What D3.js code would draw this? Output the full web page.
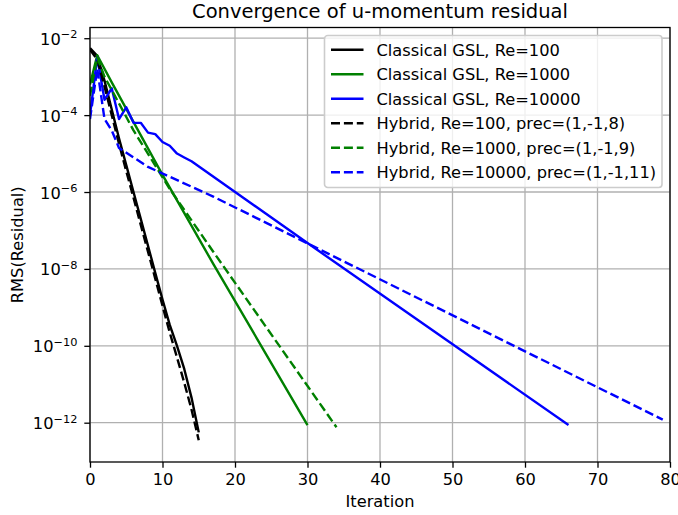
<!DOCTYPE html>
<html>
<head>
<meta charset="utf-8">
<script src="https://cdn.jsdelivr.net/npm/d3@7"></script>
<style>
  body { margin: 0; background: #fff; }
  svg { display: block; font-family: "DejaVu Sans", sans-serif; }
</style>
</head>
<body>
<svg id="chart" width="678" height="515"></svg>
<script>
// ticks
const iterTicks = [0, 10, 20, 30, 40, 50, 60, 70, 80];
const yTicks = [1e-2, 1e-4, 1e-6, 1e-8, 1e-10, 1e-12];
const yTickExps = ["\u22122", "\u22124", "\u22126", "\u22128", "\u221210", "\u221212"];

// [iteration, RMS residual]
const classicRe100 = [[0, 5.5e-3], [1, 3.5e-3], [2, 7.9e-4], [3, 1.4e-4], [4, 2.5e-5], [5, 5.0e-6],
  [6, 1.0e-6], [7, 2.0e-7], [8, 4.0e-8], [9, 7.9e-9], [10, 1.6e-9], [11, 3.5e-10], [12, 1.0e-10],
  [13, 2.5e-11], [14, 4.5e-12], [15, 5.6e-13]];
const classicRe1000 = [[0, 6.3e-4], [1, 3.6e-3], [3, 7.1e-4], [10, 2.8e-6], [17, 1.35e-8], [30, 8.7e-13]];
const classicRe10000 = [[0, 1.0e-4], [1, 3.2e-3], [2, 2.5e-4], [3, 5.0e-4], [4, 7.9e-5], [5, 1.6e-4],
  [6, 6.3e-5], [7, 6.3e-5], [8, 3.5e-5], [9, 3.2e-5], [10, 2.0e-5], [11, 1.6e-5], [12, 1.0e-5],
  [13, 7.9e-6], [14, 6.3e-6], [30, 4.7e-8], [66, 8.7e-13]];
const hybridRe100 = [[0, 5.0e-3], [1, 2.8e-3], [2, 5.6e-4], [3, 1.0e-4], [4, 1.8e-5], [5, 3.5e-6],
  [6, 7.1e-7], [7, 1.4e-7], [8, 2.8e-8], [9, 5.6e-9], [10, 1.1e-9], [11, 2.2e-10], [12, 5.0e-11],
  [13, 1.1e-11], [14, 2.2e-12], [15, 3.5e-13]];
const hybridRe1000 = [[0, 3.2e-4], [1, 3.2e-3], [2, 1.0e-3], [3, 4.5e-4], [6, 4.0e-5], [11, 1.2e-6],
  [17, 2.8e-8], [34, 7.6e-13]];
const hybridRe10000 = [[0, 7.9e-5], [1, 1.6e-3], [2, 7.9e-5], [3, 4.0e-5], [4, 1.4e-5], [8, 4.5e-6],
  [17, 7.6e-7], [79, 1.2e-12]];

const seriesNames = [
  "Classical GSL, Re=100", "Classical GSL, Re=1000", "Classical GSL, Re=10000",
  "Hybrid, Re=100, prec=(1,-1,8)", "Hybrid, Re=1000, prec=(1,-1,9)", "Hybrid, Re=10000, prec=(1,-1,11)"
];

const series = [
  { name: seriesNames[0], data: classicRe100, color: "#000000", dashed: false },
  { name: seriesNames[1], data: classicRe1000, color: "#008000", dashed: false },
  { name: seriesNames[2], data: classicRe10000, color: "#0000ff", dashed: false },
  { name: seriesNames[3], data: hybridRe100, color: "#000000", dashed: true },
  { name: seriesNames[4], data: hybridRe1000, color: "#008000", dashed: true },
  { name: seriesNames[5], data: hybridRe10000, color: "#0000ff", dashed: true }
];

const svg = d3.select("#chart");
const width = 678, height = 515;
const margin = { top: 27.5, right: 8, bottom: 53, left: 90 };
const innerWidth = width - margin.left - margin.right;
const innerHeight = height - margin.top - margin.bottom;
const fs = 16.25;
const lw = 2.4;
const dash = "9,3.9";

const g = svg.append("g").attr("transform", `translate(${margin.left},${margin.top})`);

const x = d3.scaleLinear().domain([0, 80]).range([0, innerWidth]);
const y = d3.scaleLog().domain([9.5e-14, 1.9e-2]).range([innerHeight, 0]);

// GRID
g.append("g").selectAll("line").data(iterTicks).enter().append("line")
  .attr("x1", d => x(d)).attr("x2", d => x(d))
  .attr("y1", 0).attr("y2", innerHeight)
  .attr("stroke", "#b0b0b0").attr("stroke-width", 1.3);
g.append("g").selectAll("line").data(yTicks).enter().append("line")
  .attr("x1", 0).attr("x2", innerWidth)
  .attr("y1", d => y(d)).attr("y2", d => y(d))
  .attr("stroke", "#b0b0b0").attr("stroke-width", 1.3);

// LINES
g.append("clipPath").attr("id", "clip")
  .append("rect").attr("width", innerWidth).attr("height", innerHeight);

const line = d3.line().x(d => x(d[0])).y(d => y(d[1]));

g.append("g").attr("clip-path", "url(#clip)")
  .selectAll("path").data(series).enter().append("path")
  .attr("d", d => line(d.data))
  .attr("fill", "none")
  .attr("stroke", d => d.color)
  .attr("stroke-width", lw)
  .attr("stroke-linejoin", "round")
  .attr("stroke-dasharray", d => d.dashed ? dash : null);

// AXES
const xAxis = g.append("g")
  .attr("transform", `translate(0,${innerHeight})`)
  .call(d3.axisBottom(x).tickValues(iterTicks).tickSize(5.7).tickPadding(5.7).tickFormat(d3.format("d")));
xAxis.selectAll("text").attr("font-size", fs).attr("fill", "#000")
  .attr("font-family", "DejaVu Sans");

const yAxis = g.append("g")
  .call(d3.axisLeft(y).tickValues(yTicks).tickSize(5.7).tickFormat(""));
yAxis.selectAll(".tick text").remove();

yAxis.selectAll(".tick").each(function(d, i) {
  const t = d3.select(this).append("text")
    .attr("x", -12.5).attr("y", 6)
    .attr("text-anchor", "end")
    .attr("fill", "#000")
    .attr("font-family", "DejaVu Sans");
  t.append("tspan").attr("font-size", fs).text("10");
  t.append("tspan").attr("font-size", fs * 0.7).attr("dy", -6.5).text(yTickExps[i]);
});

[xAxis, yAxis].forEach(a => {
  a.select(".domain").remove();
  a.selectAll(".tick line").attr("stroke", "#000").attr("stroke-width", 1.3);
});

// SPINES
g.append("rect")
  .attr("width", innerWidth).attr("height", innerHeight)
  .attr("fill", "none").attr("stroke", "#000").attr("stroke-width", 1.3);

// LEGEND
const lg = g.append("g").attr("transform", `translate(${324.5 - margin.left},${35.5 - margin.top})`);
lg.append("rect")
  .attr("width", 337.5).attr("height", 152)
  .attr("rx", 3.25)
  .attr("fill", "#fff").attr("fill-opacity", 0.8)
  .attr("stroke", "#cccccc").attr("stroke-width", 1.6);

const rows = lg.selectAll(".row").data(series).enter().append("g")
  .attr("transform", (d, i) => `translate(0,${14.2 + i * 24.5})`);
rows.append("line")
  .attr("x1", 6.5).attr("x2", 39)
  .attr("stroke", d => d.color)
  .attr("stroke-width", lw)
  .attr("stroke-dasharray", d => d.dashed ? dash : null);
rows.append("text")
  .attr("x", 52).attr("y", 5.8)
  .attr("font-size", fs).attr("fill", "#000")
  .text(d => d.name);

// LABELS & TITLE
svg.append("text")
  .attr("x", margin.left + innerWidth / 2).attr("y", 18)
  .attr("text-anchor", "middle")
  .attr("font-size", 19.5).attr("fill", "#000")
  .text("Convergence of u-momentum residual");

svg.append("text")
  .attr("x", margin.left + innerWidth / 2).attr("y", 507)
  .attr("text-anchor", "middle")
  .attr("font-size", fs).attr("fill", "#000")
  .text("Iteration");

svg.append("text")
  .attr("transform", "rotate(-90)")
  .attr("x", -(margin.top + innerHeight / 2)).attr("y", 22.5)
  .attr("text-anchor", "middle")
  .attr("font-size", fs).attr("fill", "#000")
  .text("RMS(Residual)");
</script>
</body>
</html>
